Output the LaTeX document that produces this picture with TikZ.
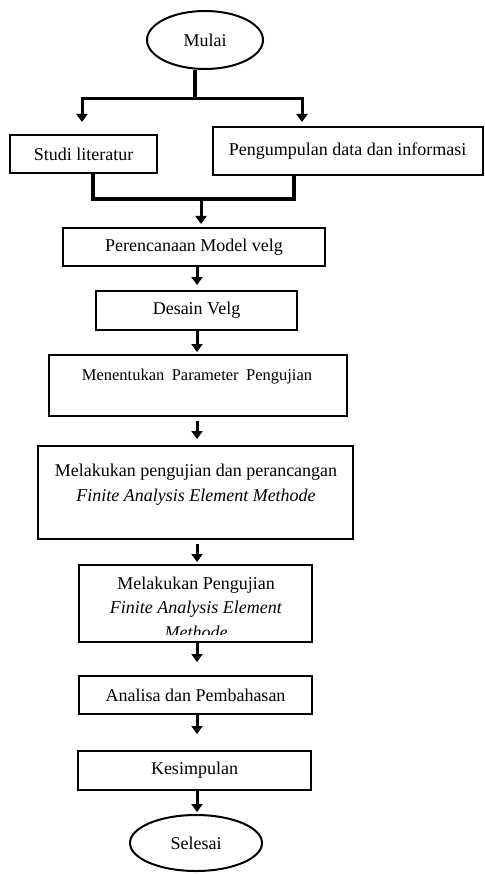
\documentclass[tikz,border=0pt]{standalone}
\usepackage{fontspec}
\setmainfont{Liberation Serif}
\usetikzlibrary{arrows.meta,shapes.geometric,calc}
\begin{document}
\begin{tikzpicture}[x=1pt,y=-1pt,
  box/.style={draw, line width=2pt, rectangle, inner sep=0pt},
  term/.style={draw, line width=2pt, ellipse, inner sep=0pt},
  txt/.style={font=\fontsize{18}{24.5}\selectfont, align=center, inner sep=0pt},
  flow/.style={line width=3pt, -{Triangle[width=11pt,length=8pt]}},
  link/.style={line width=3.5pt}]
\useasboundingbox (0,0) rectangle (484,874);

% nodes
\node[term, txt, minimum width=116, minimum height=58] (start) at (205,40) {Mulai};
\node[box, txt, minimum width=147, minimum height=38] (s1) at (83.5,154) {Studi literatur};
\node[box, txt, minimum width=270, minimum height=48] (s2) at (347.5,151) {Pengumpulan data dan informasi};
\node[box, txt, minimum width=262, minimum height=38] (p1) at (194,247) {Perencanaan Model velg};
\node[box, txt, minimum width=201, minimum height=39] (p2) at (196.5,310.5) {Desain Velg};
\node[box, minimum width=298, minimum height=61] (p3) at (198,385.5) {};
\node[txt, font=\fontsize{16.5}{22}\selectfont] (p3t) at (197,377) {Menentukan\hspace{0.45em}Parameter\hspace{0.45em}Pengujian};
\node[box, minimum width=315, minimum height=93] (p4) at (195.5,492.5) {};
\node[txt] (p4t) at (196,484.5) {Melakukan pengujian dan perancangan\\ \textit{Finite Analysis Element Methode}};
\node[box, minimum width=233, minimum height=77] (p5) at (195.5,603.5) {};
\begin{scope}
  \clip ($(p5.center)+(-115,-37)$) rectangle ($(p5.center)+(115,30.5)$);
  \node[txt] (p5t) at (196,607.5) {Melakukan Pengujian\\ \textit{Finite Analysis Element}\\ \textit{Methode}};
\end{scope}
\node[box, txt, minimum width=233, minimum height=38] (p6) at (195.5,695) {Analisa dan Pembahasan};
\node[box, txt, minimum width=233, minimum height=39] (p7) at (194.5,770.5) {Kesimpulan};
\node[term, txt, minimum width=132, minimum height=56] (stop) at (196,843) {Selesai};

% coordinates
\coordinate (j1) at (195,99);
\coordinate (aL) at (82,122);
\coordinate (aR) at (302,122);
\coordinate (m1) at (93,199);
\coordinate (m2) at (294,199);
\coordinate (m3) at (201,199);
\coordinate (ax) at (197,0);

% split
\draw[link] (j1 |- start.south) -- (j1);
\draw[flow] (j1) -| (aL);
\draw[flow] (j1) -| (aR);

% merge
\draw[link] (m1 |- s1.south) -- (m1) -- (m2) -- (m2 |- s2.south);
\draw[flow] (m3) -- ([yshift=3pt]m3 |- p1.north);

% main chain
\draw[flow, shorten >=5pt] (p1.south -| ax) -- (p2.north -| ax);
\draw[flow, shorten >=2pt] (p2.south -| ax) -- (p3.north -| ax);
\draw[flow, shorten <=4pt, shorten >=6pt] (p3.south -| ax) -- (p4.north -| ax);
\draw[flow, shorten <=4pt, shorten >=2pt] (p4.south -| ax) -- (p5.north -| ax);
\draw[flow, shorten >=13pt] (p5.south -| ax) -- (p6.north -| ax);
\draw[flow, shorten >=16pt] (p6.south -| ax) -- (p7.north -| ax);
\draw[flow, shorten >=2pt] (p7.south -| ax) -- (stop.north -| ax);
\end{tikzpicture}
\end{document}
